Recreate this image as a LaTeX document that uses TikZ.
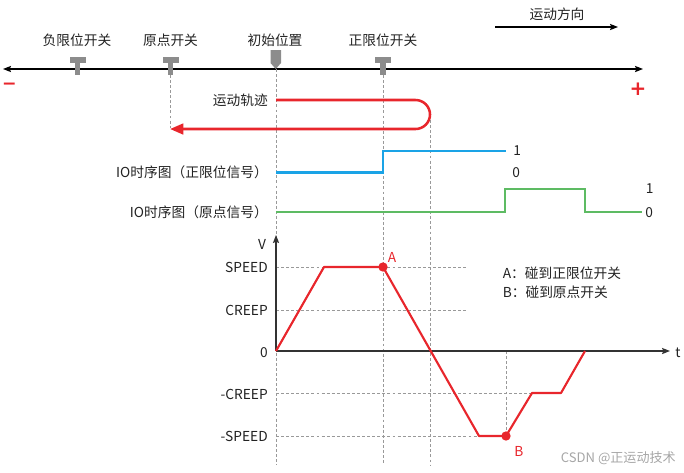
\documentclass[tikz,border=0pt]{standalone}
\usepackage{fontspec}
\setmainfont{Noto Sans CJK SC}
\newfontfamily\djv{DejaVu Sans}
\usetikzlibrary{arrows.meta}
\definecolor{myred}{HTML}{E8262C}
\definecolor{myblue}{HTML}{1AA3E6}
\definecolor{mygreen}{HTML}{5DBB63}
\definecolor{swgray}{HTML}{8C8C8C}
\definecolor{txt}{HTML}{222222}
\tikzset{
  lbl/.style={inner sep=0pt, text=txt, font=\fontsize{10.3}{12}\selectfont},
  rlbl/.style={lbl, anchor=east},
  llbl/.style={lbl, anchor=west},
  guide/.style={gray!80, line width=0.55pt, dash pattern=on 2.2pt off 1.6pt},
  mainaxis/.style={black, line width=1pt, {Stealth[length=6pt,width=4.6pt,inset=1pt]}-{Stealth[length=6pt,width=4.6pt,inset=1pt]}},
  plotaxis/.style={black!80, line width=1pt, -{Stealth[length=6pt,width=4.6pt,inset=1pt]}},
  switchshape/.style={fill=swgray, draw=none},
  sig/.style={line width=1.6pt, line join=miter},
  dot/.style={circle, fill=myred, inner sep=0pt, minimum size=7pt},
}
\begin{document}
\begin{tikzpicture}[x=0.75pt,y=-0.75pt]
\useasboundingbox (0,0) rectangle (684,472);

% ---------- top axis ----------
\coordinate (axL) at (3,69);
\coordinate (axR) at (643,69);
\draw[mainaxis] (axL) -- (axR);
\node[inner sep=0pt, text=myred, font=\djv\fontsize{13}{13}\selectfont\bfseries] (minus) at (9.5,86) {−};
\node[inner sep=0pt, text=myred, font=\djv\fontsize{15}{15}\selectfont\bfseries] (plus) at (638,89) {+};

% motion direction
\node[lbl] (dirlbl) at (557,14) {运动方向};
\coordinate (dirA) at (495,27);
\coordinate (dirB) at (618,27);
\draw[black, line width=0.9pt, -{Stealth[length=6pt,width=4.6pt,inset=1pt]}] (dirA) -- (dirB);

% switch labels
\node[lbl] (negsw) at (77,40) {负限位开关};
\node[lbl] (origsw) at (170.5,40) {原点开关};
\node[lbl] (initpos) at (275,40) {初始位置};
\node[lbl] (possw) at (383,40) {正限位开关};

% switch shapes (T)
\foreach \cx/\nm in {77.5/tneg, 170.5/torig, 383/tpos}{
  \fill[switchshape] (\cx-8,57.3) rectangle (\cx+8,62.7);
  \fill[switchshape] (\cx-2.7,57.3) rectangle (\cx+2.7,75);
  \coordinate (\nm) at (\cx,75);
}
% initial position marker
\fill[switchshape] (270.5,50) -- (281,50) -- (281,63) -- (275.75,69) -- (270.5,63) -- cycle;
\coordinate (tinit) at (276,69);

% ---------- guides ----------
\coordinate (g1b) at (170.5,128);
\coordinate (g2b) at (276,465);
\coordinate (g3b) at (383,465);
\coordinate (g4t) at (430,115);
\coordinate (g4b) at (430,465);
\draw[guide] (torig) -- (g1b);
\draw[guide] (tinit) -- (g2b);
\draw[guide] (tpos) -- (g3b);
\draw[guide] (g4t) -- (g4b);

% ---------- motion trajectory ----------
\node[rlbl] (trajlbl) at (268,100) {运动轨迹};
\coordinate (trS) at (276,100);
\coordinate (trE) at (170,129);
\draw[myred, line width=1.9pt, -{Triangle[length=10pt,width=8pt]}]
  (trS) -- (415.5,100) arc (-90:90:14.5) -- (trE);

% ---------- IO signals ----------
\node[rlbl] (io1lbl) at (268,172.5) {IO时序图（正限位信号）};
\draw[sig, myblue] (276,172.5) -- (383,172.5) -- (383,151) -- (506,151);
\node[llbl] (b1) at (513,151) {1};
\node[llbl] (b0) at (512,173) {0};

\node[rlbl] (io2lbl) at (268,212) {IO时序图（原点信号）};
\draw[sig, mygreen] (276,212) -- (505,212) -- (505,189) -- (585,189) -- (585,212) -- (642,212);
\node[llbl] (g1) at (645.5,189) {1};
\node[llbl] (g0) at (645,212.5) {0};

% ---------- velocity chart ----------
\coordinate (O) at (276,351);
\coordinate (Vtop) at (276,235);
\coordinate (tR) at (670,351);
\draw[guide] (276,267) -- (468,267);
\draw[guide] (276,310) -- (468,310);
\draw[guide] (276,393) -- (532,393);
\draw[guide] (276,436) -- (506,436);
\draw[guide] (506,351) -- (506,436);
\draw[plotaxis] (O) -- (Vtop);
\draw[plotaxis] (O) -- (tR);
\node[lbl] (Vl) at (262,244) {V};
\node[lbl] (tl) at (678,353) {t};

\node[rlbl] (speed) at (268,267) {SPEED};
\node[rlbl] (creep) at (268,310) {CREEP};
\node[rlbl] (zero) at (268,352.5) {0};
\node[rlbl] (ncreep) at (268,394) {-CREEP};
\node[rlbl] (nspeed) at (268,436) {-SPEED};

\coordinate (A) at (383,267);
\coordinate (B) at (506,436);
\draw[sig, myred, line join=round] (O) -- (324,267) -- (A) -- (479,436) -- (B) -- (532,393) -- (561,393) -- (585,351);
\node[dot] (Adot) at (A) {};
\node[dot] (Bdot) at (B) {};
\node[lbl, text=myred] (Al) at (392,257) {A};
\node[lbl, text=myred] (Bl) at (519,451) {B};

\node[llbl] (legA) at (502.5,273) {A：碰到正限位开关};
\node[llbl] (legB) at (502.5,292) {B：碰到原点开关};

\node[lbl, text=black!35, font=\fontsize{9.8}{11}\selectfont, anchor=east] (wm) at (676,458) {CSDN @正运动技术};
\end{tikzpicture}
\end{document}
